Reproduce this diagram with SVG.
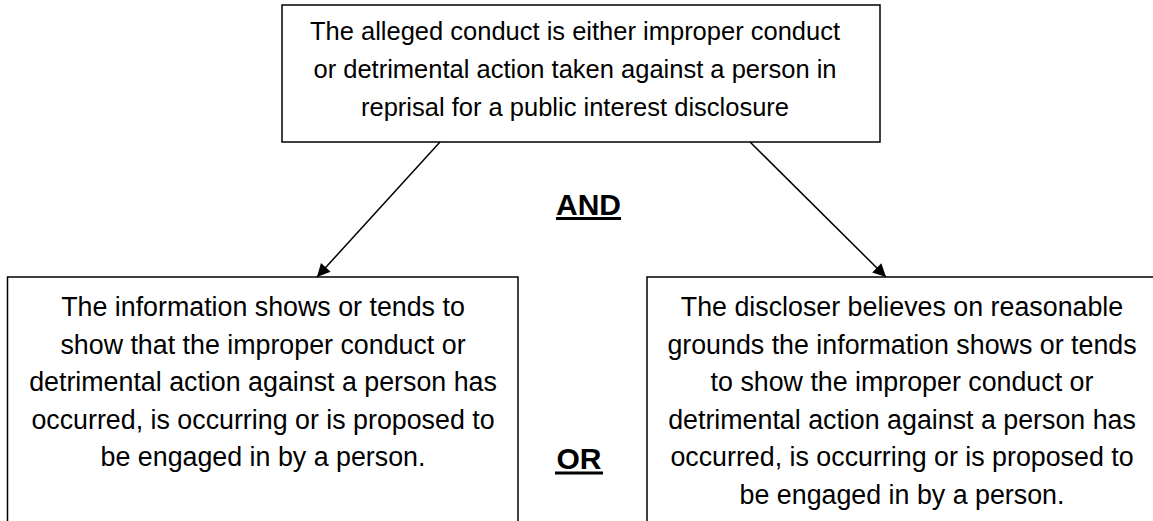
<svg xmlns="http://www.w3.org/2000/svg" width="1153" height="521" viewBox="0 0 1153 521">
<style>
.box{fill:#fff;stroke:#000;stroke-width:1.5}
.t{font-family:"Liberation Sans",Arial,sans-serif;font-size:25.5px;fill:#000;text-anchor:middle}
.b{font-family:"Liberation Sans",Arial,sans-serif;font-size:26.8px;fill:#000;text-anchor:middle}
.lbl{font-family:"Liberation Sans",Arial,sans-serif;font-size:30px;font-weight:bold;fill:#000;text-anchor:middle}
.c{stroke:#000;stroke-width:1.5;fill:none;marker-end:url(#ah)}
</style>
<defs>
<marker id="ah" viewBox="0 0 10 10" refX="10" refY="5" markerUnits="userSpaceOnUse" markerWidth="16" markerHeight="13" orient="auto">
<path d="M0,0 L10,5 L0,10 z" fill="#000"/>
</marker>
</defs>
<rect width="1153" height="521" fill="#fff"/>
<g id="top">
<rect class="box" x="282" y="5" width="598" height="137"/>
<text class="t" x="575" y="40">The alleged conduct is either improper conduct</text>
<text class="t" x="575" y="78">or detrimental action taken against a person in</text>
<text class="t" x="575" y="116">reprisal for a public interest disclosure</text>
</g>
<g id="left">
<rect class="box" x="7.5" y="277" width="510.5" height="260"/>
<text class="b" x="263" y="316">The information shows or tends to</text>
<text class="b" x="263" y="353.5">show that the improper conduct or</text>
<text class="b" x="263" y="391">detrimental action against a person has</text>
<text class="b" x="263" y="428.5">occurred, is occurring or is proposed to</text>
<text class="b" x="263" y="466">be engaged in by a person.</text>
</g>
<g id="right">
<rect class="box" x="647" y="277" width="520" height="260"/>
<text class="b" x="902" y="316">The discloser believes on reasonable</text>
<text class="b" x="902" y="353.5">grounds the information shows or tends</text>
<text class="b" x="902" y="391">to show the improper conduct or</text>
<text class="b" x="902" y="428.5">detrimental action against a person has</text>
<text class="b" x="902" y="466">occurred, is occurring or is proposed to</text>
<text class="b" x="902" y="503.5">be engaged in by a person.</text>
</g>
<g id="and">
<text class="lbl" x="588.5" y="215">AND</text>
<rect x="556" y="217" width="65" height="3" fill="#000"/>
</g>
<g id="or">
<text class="lbl" x="579" y="469">OR</text>
<rect x="555" y="471.5" width="48" height="3" fill="#000"/>
</g>
<g id="connectors">
<line class="c" x1="440" y1="142" x2="317" y2="277"/>
<line class="c" x1="750" y1="142" x2="886" y2="277"/>
</g>
</svg>
